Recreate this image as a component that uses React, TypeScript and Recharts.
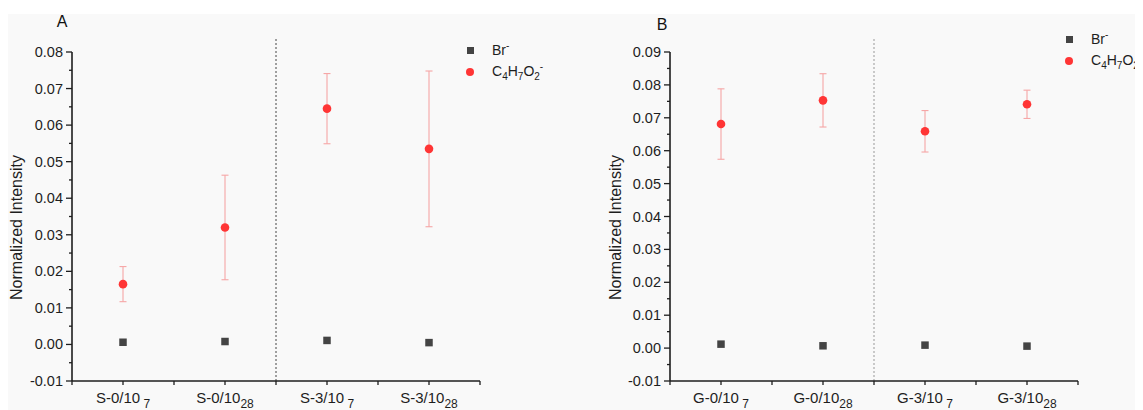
import React from 'react';
import { ScatterChart, Scatter, XAxis, YAxis, ErrorBar, ReferenceLine, Legend } from 'recharts';

// ---------- data ----------
const xPositions = [1, 2, 3, 4];
const catMainA = ['S-0/10', 'S-0/10', 'S-3/10', 'S-3/10'];
const catMainB = ['G-0/10', 'G-0/10', 'G-3/10', 'G-3/10'];
const catSub = [' 7', '28', ' 7', '28'];

const brA = [0.0006, 0.0008, 0.0011, 0.0005];
const c4A = [0.0165, 0.032, 0.0645, 0.0535];
const errA = [0.0048, 0.0143, 0.0096, 0.0213];

const brB = [0.0012, 0.0007, 0.0009, 0.0006];
const c4B = [0.0681, 0.0753, 0.0659, 0.0741];
const errB = [0.0107, 0.0081, 0.0063, 0.0043];

const xTicks = [0.5, 1, 1.5, 2, 2.5, 3, 3.5, 4, 4.5];
const yMajorA = [-0.01, 0, 0.01, 0.02, 0.03, 0.04, 0.05, 0.06, 0.07, 0.08];
const yMinorA = [-0.005, 0.005, 0.015, 0.025, 0.035, 0.045, 0.055, 0.065, 0.075];
const yMajorB = [-0.01, 0, 0.01, 0.02, 0.03, 0.04, 0.05, 0.06, 0.07, 0.08, 0.09];
const yMinorB = [-0.005, 0.005, 0.015, 0.025, 0.035, 0.045, 0.055, 0.065, 0.075, 0.085];

const groupSeparator = 2.5;
const yLabel = 'Normalized Intensity';

// ---------- styles ----------
const FONT = 'Arial, "Liberation Sans", Helvetica, sans-serif';
const AXIS = '#1e1e1e';
const RED = '#ff3535';
const GREY = '#444';
const ERR = '#f6a6a6';

const brData = (vals: number[]) => xPositions.map((x, i) => ({ x, y: vals[i] }));
const c4Data = (vals: number[], errs: number[]) => xPositions.map((x, i) => ({ x, y: vals[i], err: errs[i] }));

const SquareShape = (p: any) => (
  <rect x={p.cx - 3.75} y={p.cy - 3.75} width={7.5} height={7.5} fill={GREY} />
);
const CircleShape = (p: any) => <circle cx={p.cx} cy={p.cy} r={4.3} fill={RED} />;

const makeXTick = (mains: string[]) => (props: any) => {
  const { x, y, payload } = props;
  const v = payload.value;
  const idx = xPositions.indexOf(v);
  return (
    <g>
      <line x1={x} x2={x} y1={y} y2={y + 4} stroke={AXIS} strokeWidth={1.3} />
      {idx >= 0 && (
        <text x={x} y={y + 22} textAnchor="middle" fontSize={15} fill={AXIS} fontFamily={FONT}>
          <tspan>{mains[idx]}</tspan>
          <tspan fontSize={12} dy={5} style={{ whiteSpace: 'pre' }}>{catSub[idx]}</tspan>
        </text>
      )}
    </g>
  );
};

const makeYTick = (majors: number[]) => (props: any) => {
  const { x, y, payload } = props;
  const v = payload.value;
  const major = majors.includes(v);
  return (
    <g>
      <line x1={x} x2={x - (major ? 6 : 3)} y1={y} y2={y} stroke={AXIS} strokeWidth={1.3} />
      {major && (
        <text x={x - 9} y={y + 5} textAnchor="end" fontSize={14.5} fill={AXIS} fontFamily={FONT}>
          {v.toFixed(2)}
        </text>
      )}
    </g>
  );
};

const makeYLabel = (cx: number) => (props: any) => {
  const vb = props.viewBox;
  const cy = vb.y + vb.height / 2 + 11;
  return (
    <text
      x={cx}
      y={cy}
      transform={`rotate(-90, ${cx}, ${cy})`}
      textAnchor="middle"
      dominantBaseline="central"
      fontSize={16}
      fill={AXIS}
      fontFamily={FONT}
    >
      {yLabel}
    </text>
  );
};

const Sub = ({ children }: any) => (
  <span style={{ fontSize: 10, position: 'relative', top: 4 }}>{children}</span>
);
const Sup = ({ children }: any) => (
  <span style={{ fontSize: 10, position: 'relative', top: -6 }}>{children}</span>
);

const legendLabel = (name: string) =>
  name === 'Br-' ? (
    <span>Br<Sup>-</Sup></span>
  ) : (
    <span>C<Sub>4</Sub>H<Sub>7</Sub>O<Sub>2</Sub><Sup>-</Sup></span>
  );

const renderLegend = (props: any) => {
  const payload = props.payload || [];
  return (
    <div style={{ fontFamily: FONT, fontSize: 14, color: AXIS, whiteSpace: 'nowrap' }}>
      {payload.map((entry: any) => (
        <div key={entry.value} style={{ display: 'flex', alignItems: 'center', height: 21 }}>
          <div style={{ width: 12, display: 'flex', justifyContent: 'center' }}>
            {entry.value === 'Br-' ? (
              <div style={{ width: 7, height: 7, background: GREY }} />
            ) : (
              <div style={{ width: 8, height: 8, borderRadius: 4, background: RED }} />
            )}
          </div>
          <div style={{ marginLeft: 16, lineHeight: '21px' }}>{legendLabel(entry.value)}</div>
        </div>
      ))}
    </div>
  );
};

const Panel = (p: {
  width: number;
  marginRight: number;
  yAxisWidth: number;
  mains: string[];
  br: number[];
  c4: number[];
  err: number[];
  majors: number[];
  minors: number[];
  top: number;
  sepTop: number;
  sepColor: string;
  labelX: number;
  legendLeft: number;
  legendTop: number;
}) => {
  const yTicks = [...p.majors, ...p.minors].sort((a, b) => a - b);
  return (
    <ScatterChart
      width={p.width}
      height={402}
      margin={{ top: 44, right: p.marginRight, bottom: 0, left: 0 }}
      style={{ fontFamily: FONT }}
    >
      <XAxis
        type="number"
        dataKey="x"
        domain={[0.5, 4.5]}
        ticks={xTicks}
        interval={0}
        height={29}
        tickSize={0}
        tickMargin={0}
        tickLine={false}
        tick={makeXTick(p.mains)}
        axisLine={{ stroke: AXIS, strokeWidth: 1.6 }}
        allowDecimals
      />
      <YAxis
        type="number"
        dataKey="y"
        domain={[-0.01, p.top]}
        ticks={yTicks}
        interval={0}
        width={p.yAxisWidth}
        tickSize={0}
        tickMargin={0}
        tickLine={false}
        tick={makeYTick(p.majors)}
        axisLine={{ stroke: AXIS, strokeWidth: 1.6 }}
        label={{ content: makeYLabel(p.labelX) }}
      />
      <ReferenceLine
        segment={[
          { x: groupSeparator, y: -0.01 },
          { x: groupSeparator, y: p.sepTop },
        ]}
        ifOverflow="visible"
        stroke={p.sepColor}
        strokeDasharray="2 2"
        strokeWidth={1}
      />
      <Legend
        layout="horizontal"
        align="center"
        verticalAlign="middle"
        content={renderLegend}
        wrapperStyle={{ position: 'absolute', left: p.legendLeft, top: p.legendTop, width: 'auto', height: 'auto' }}
      />
      <Scatter name="Br-" data={brData(p.br)} shape={SquareShape} isAnimationActive={false} legendType="square" />
      <Scatter
        name="C4H7O2-"
        data={c4Data(p.c4, p.err)}
        shape={CircleShape}
        isAnimationActive={false}
        legendType="circle"
      >
        <ErrorBar dataKey="err" direction="y" width={3.5} stroke={ERR} strokeWidth={1.1} />
      </Scatter>
    </ScatterChart>
  );
};

export default function App() {
  return (
    <div
      style={{
        position: 'relative',
        width: 1135,
        height: 402,
        overflow: 'hidden',
        background: '#fff',
        fontFamily: FONT,
      }}
    >
      <div style={{ position: 'absolute', left: 0, top: 6, width: 1135, height: 396, background: '#f9f9f9' }} />
      <svg width={1135} height={402} style={{ position: 'absolute', left: 0, top: 0 }}>
        <text x={54} y={19} textAnchor="middle" fontSize={16} fill="#111" fontFamily={FONT}>A</text>
        <text x={654} y={21.5} textAnchor="middle" fontSize={16} fill="#111" fontFamily={FONT}>B</text>
      </svg>
      <div style={{ position: 'absolute', left: 0, top: 0 }}>
        <Panel
          width={560}
          marginRight={88}
          yAxisWidth={64}
          mains={catMainA}
          br={brA}
          c4={c4A}
          err={errA}
          majors={yMajorA}
          minors={yMinorA}
          top={0.08}
          sepTop={0.0841}
          sepColor="#444"
          labelX={8}
          legendLeft={456}
          legendTop={32}
        />
      </div>
      <div style={{ position: 'absolute', left: 592, top: 0 }}>
        <Panel
          width={543}
          marginRight={65}
          yAxisWidth={70}
          mains={catMainB}
          br={brB}
          c4={c4B}
          err={errB}
          majors={yMajorB}
          minors={yMinorB}
          top={0.09}
          sepTop={0.0943}
          sepColor="#999"
          labelX={15}
          legendLeft={463}
          legendTop={21}
        />
      </div>
    </div>
  );
}
